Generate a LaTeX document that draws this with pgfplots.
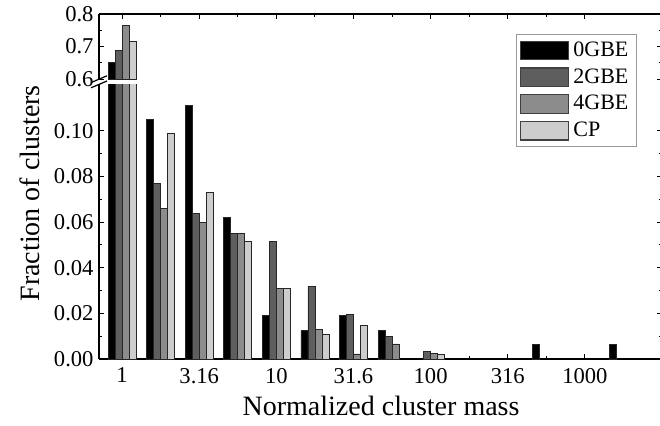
\documentclass[border=0pt]{standalone}
\usepackage{fontspec}
\setmainfont{Liberation Serif}
\usepackage{pgfplots}
\pgfplotsset{compat=1.18}
\usepackage{pgfplotstable}

\definecolor{cA}{HTML}{000000}
\definecolor{cB}{HTML}{5E5E5E}
\definecolor{cC}{HTML}{8C8C8C}
\definecolor{cD}{HTML}{CDCDCD}

% x = log10(normalized cluster mass), bins of 0.25
\pgfplotstableread{
x     g0      g2      g4      cp
0.00  0.650   0.689   0.766   0.717
0.25  0.105   0.077   0.066   0.099
0.50  0.111   0.064   0.060   0.073
0.75  0.062   0.055   0.055   0.0515
1.00  0.019   0.0515  0.031   0.031
1.25  0.0124  0.032   0.013   0.011
1.50  0.019   0.0196  0.0022  0.0148
1.75  0.0124  0.0098  0.0066  nan
2.00  nan     0.0032  0.0025  0.0021
2.75  0.0064  nan     nan     nan
3.25  0.0064  nan     nan     nan
}\clusters

\pgfplotsset{
  brk/.style={
    scale only axis, width=281.5pt,
    xmin=-0.15, xmax=3.5,
    ybar=0pt, bar width=0.0453,
    xtick={0,0.5,1,1.5,2,2.5,3}, minor x tick num=1,
    tick align=inside, major tick length=2.5pt, minor tick length=1.5pt,
    axis y line*=box, ytick pos=both, yticklabel pos=left,
    x axis line style={-}, y axis line style={-},
    /pgf/number format/assume math mode=true,
    tick label style={font=\fontsize{11.3}{12}\selectfont},
    yticklabel style={xshift=0.8pt},
    tick style={black, line width=0.5pt},
    axis line style={line width=0.6pt},
  },
}

\begin{document}
\begin{tikzpicture}
% lower part of the broken axis
\begin{axis}[brk, name=lower,
  at={(49.5pt,33pt)}, anchor=south west,
  height=137.5pt,
  ymin=0, ymax=0.1206,
  ytick={0,0.02,0.04,0.06,0.08,0.10}, minor y tick num=1,
  yticklabel style={/pgf/number format/.cd, fixed, fixed zerofill, precision=2},
  axis x line*=bottom,
  xticklabels={1,3.16,10,31.6,100,316,1000},
  xticklabel style={yshift=-1pt},
  xlabel={Normalized cluster mass},
  ylabel={Fraction of clusters},
  label style={font=\fontsize{14}{16}\selectfont},
  xlabel style={at={(axis description cs:0.501,-0.171)}, anchor=center},
  ylabel style={at={(axis description cs:-0.1226,0.602)}, anchor=center},
]
\addplot[fill=cA, draw=black!85] table[x=x, y=g0] {\clusters};
\addplot[fill=cB, draw=black!85] table[x=x, y=g2] {\clusters};
\addplot[fill=cC, draw=black!85] table[x=x, y=g4] {\clusters};
\addplot[fill=cD, draw=black!85] table[x=x, y=cp] {\clusters};
\end{axis}

% upper part of the broken axis
\begin{axis}[brk, name=upper,
  at={(49.5pt,173pt)}, anchor=south west,
  height=32.5pt,
  ymin=0.6, ymax=0.8,
  restrict y to domain=0.5:1,
  ytick={0.6,0.7,0.8}, minor y tick num=1,
  yticklabel style={/pgf/number format/.cd, fixed, fixed zerofill, precision=1},
  axis x line*=top,
  xticklabels={},
  legend style={at={(axis description cs:0.9556,0.692)}, anchor=north east,
    draw=black!40, line width=0.6pt, font=\fontsize{11}{12}\selectfont,
    inner xsep=2pt, inner ysep=1.5pt, row sep=0.6pt,
    cells={anchor=west}},
  legend image code/.code={\draw[#1, draw=black!75] (0pt,-4.6pt) rectangle (24pt,4.6pt);},
]
\addplot[fill=cA, draw=black!85] table[x=x, y=g0] {\clusters};
\addplot[fill=cB, draw=black!85] table[x=x, y=g2] {\clusters};
\addplot[fill=cC, draw=black!85] table[x=x, y=g4] {\clusters};
\addplot[fill=cD, draw=black!85] table[x=x, y=cp] {\clusters};
\legend{0GBE,2GBE,4GBE,CP}
\end{axis}

% break marks on the left spine
\draw[line width=0.6pt] (45.5pt,168.6pt) -- (53.5pt,172.0pt);
\draw[line width=0.6pt] (45.5pt,171.2pt) -- (53.5pt,174.6pt);

\pgfresetboundingbox
\path[use as bounding box] (0,0) rectangle (330pt,212.5pt);
\end{tikzpicture}
\end{document}
